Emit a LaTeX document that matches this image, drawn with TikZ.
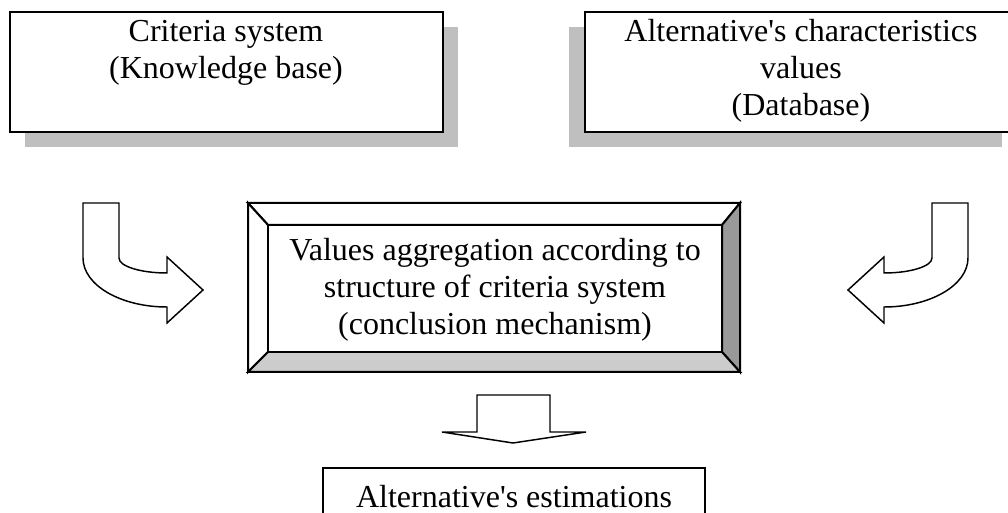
\documentclass[tikz,border=0pt]{standalone}
\usepackage{fontspec}
\setmainfont{Liberation Serif}[Ligatures=TeXOff]
\begin{document}
\begin{tikzpicture}[x=0.75pt,y=-0.75pt,
  txt/.style={font=\fontsize{24}{27.75}\selectfont, align=center, inner sep=0pt},
  boxline/.style={draw=black, line width=1.5pt},
  shadowfill/.style={fill=black!25, draw=none},
  blockarrow/.style={draw=black, fill=white, line width=1.1pt, line join=miter}]
\clip (0,0) rectangle (1008,513);
% top-left box with shadow
\fill[shadowfill] (25,27) rectangle (458,147);
\draw[boxline, fill=white] (10,12) rectangle (443,132);
\node[txt, anchor=base] (kb) at (226,79) {Criteria system\\(Knowledge base)};
% top-right box with shadow
\fill[shadowfill] (569,27) rectangle (1002,147);
\draw[boxline, fill=white] (585,12) rectangle (1018,132);
\node[txt, anchor=base] (db) at (801,116) {Alternative's characteristics\\values\\(Database)};
% bevel box
\coordinate (o1) at (248,203); \coordinate (o2) at (740,203);
\coordinate (o3) at (740,372); \coordinate (o4) at (248,372);
\coordinate (i1) at (268,225); \coordinate (i2) at (722,225);
\coordinate (i3) at (722,352); \coordinate (i4) at (268,352);
\filldraw[boxline, fill=white] (o1) -- (o2) -- (i2) -- (i1) -- cycle;
\filldraw[boxline, fill=white] (o1) -- (i1) -- (i4) -- (o4) -- cycle;
\filldraw[boxline, fill=black!40] (o2) -- (o3) -- (i3) -- (i2) -- cycle;
\filldraw[boxline, fill=black!20] (o4) -- (i4) -- (i3) -- (o3) -- cycle;
\draw[boxline, fill=white] (i1) rectangle (i3);
\node[txt, anchor=base] (agg) at (495,335) {Values aggregation according to\\structure of criteria system\\(conclusion mechanism)};
% left curved arrow
\draw[blockarrow] (83,203) -- (119,203) -- (119,258)
  arc[start angle=180, end angle=270, x radius=48, y radius=-15]
  -- (167,257) -- (203,290) -- (167,323) -- (167,307)
  arc[start angle=270, end angle=180, x radius=84, y radius=-49] -- cycle;
% right curved arrow
\draw[blockarrow] (968,203) -- (932,203) -- (932,258)
  arc[start angle=0, end angle=-90, x radius=48, y radius=-15]
  -- (884,257) -- (848,290) -- (884,323) -- (884,307)
  arc[start angle=-90, end angle=0, x radius=84, y radius=-49] -- cycle;
% down arrow
\draw[blockarrow] (477,395) -- (550,395) -- (550,432) -- (586,432) -- (513,443)
  -- (442,432) -- (477,432) -- cycle;
% bottom box
\draw[boxline, fill=white] (323,468) rectangle (705,530);
\node[txt, anchor=base] (est) at (514,508) {Alternative's estimations};
\end{tikzpicture}
\end{document}
